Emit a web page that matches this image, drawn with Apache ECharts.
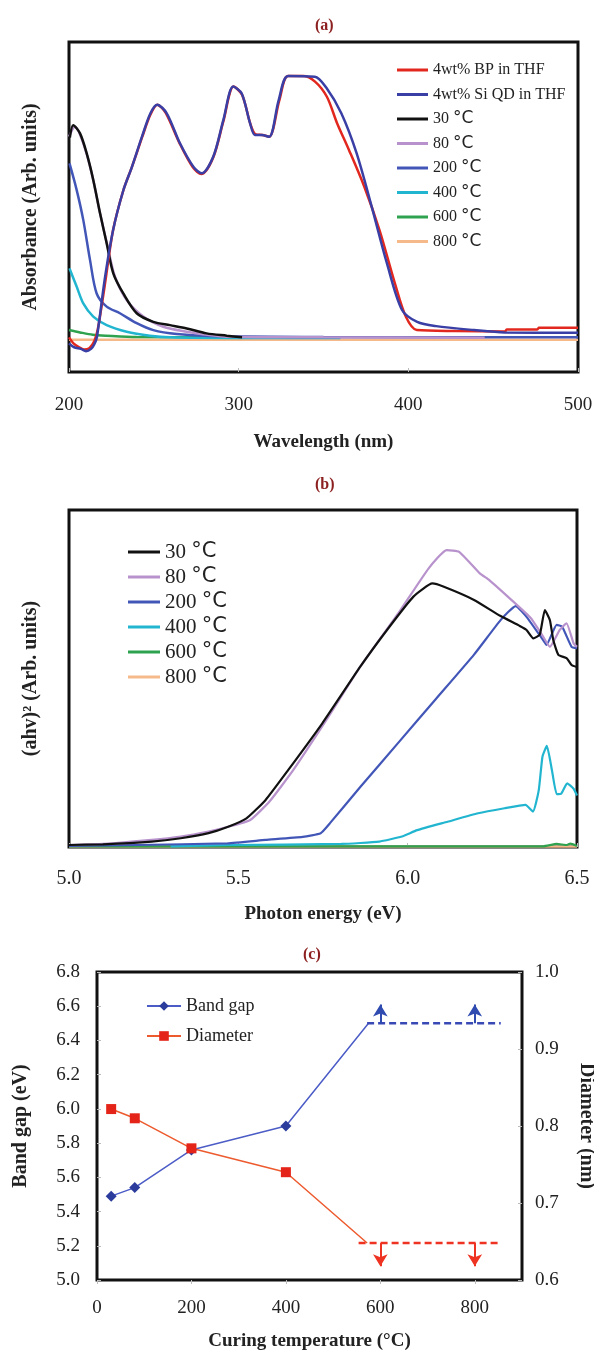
<!DOCTYPE html>
<html>
<head>
<meta charset="utf-8">
<script src="https://cdn.jsdelivr.net/npm/echarts@6/dist/echarts.min.js"></script>
<style>
  html, body { margin: 0; padding: 0; background: #fff; }
  #chart { width: 594px; height: 1351px; }
</style>
</head>
<body>
<div id="chart"></div>
<script>
// (a) absorbance vs wavelength, [nm, arb]
const absBP = [[200,10.5],[203,8.5],[206,7.5],[209,6.8],[212,7.2],[215,9.5],[217,13],[221,26],[226,43],[232,55],[237,62],[243,71],[248,78],[252,81],[257,78.5],[265,69.5],[273,62],[278,60],[285,65],[291,76],[297,86.5],[302,84],[307,75],[310,72],[314,71.8],[318,71.3],[324,82.4],[329,89.7],[338,89.7],[345,88],[352,83.4],[358,75.4],[365,67.3],[374,56.2],[383,43],[392,27],[398.5,16.8],[405,12.7],[428,12.4],[457,12.3],[458,12.9],[476,12.9],[477,13.4],[500,13.4]]
const absQD = [[200,8.7],[203,7.5],[207,7.0],[210,6.3],[213,7.0],[215,8.5],[216.5,10.7],[221,27.9],[226,43],[232,55],[237,62],[243,71.3],[248,78.4],[252,81],[257.6,78.4],[265.4,69.3],[273.3,62.2],[278.2,60.2],[285,65.2],[291,76.4],[296.8,86.5],[301.8,84.4],[306.7,75.4],[309.6,71.8],[313.6,71.8],[318,71.3],[323.6,82.4],[329.2,89.7],[344.9,89.5],[351.6,86.2],[360.5,78.4],[369.5,66.3],[378.4,50.1],[387.4,32.9],[396.3,18.8],[405.2,15.2],[416.4,13.9],[438.8,12.7],[456.7,12.0],[500,11.9]]
const abs30 = [[200.5,71],[202.5,74.8],[206.5,72.3],[210.4,66.3],[214.3,58.2],[218.3,48.1],[222.2,39],[226.1,29.9],[232,23.8],[239.9,17.8],[249.7,15.2],[259.5,14.2],[269.4,13.2],[281.1,11.7],[293,11],[302,10.5]]
const abs80 = [[200,71.3],[203.5,74.3],[208.4,69.3],[213.4,60.2],[218.3,48.1],[223.2,37],[227.1,28.9],[234,21.8],[243.8,16.8],[255.6,13.7],[269.4,12.2],[283,11.2],[293,10.7],[350,10.5],[445,10.4]]
const abs200 = [[200.3,63.2],[204.5,55.2],[208.4,46.1],[212.4,33.9],[216.3,23.8],[222.2,19.8],[230,17.8],[239.9,14.8],[249.7,12.7],[263.5,11.5],[283,10.9],[350,10.6],[500,10.5]]
const abs400 = [[200.3,31.4],[204.5,25.9],[208.4,20.8],[214.3,16.8],[222.2,14.2],[234,12.2],[247.7,11],[259.5,10.5],[300,10.3],[360,10.3]]
const abs600 = [[200,12.7],[206.5,12],[214,11.3],[222,11],[240,10.6],[340,10.5]]
const abs800 = [[200,9.8],[500,9.8]]

// (b) (ahv)^2 vs photon energy, [eV, arb]
const tauc30 = [[5.0,0.6],[5.1,0.8],[5.244,1.6],[5.33,2.6],[5.412,4.1],[5.47,6.0],[5.524,8.5],[5.58,13.9],[5.647,22.8],[5.748,36.7],[5.86,53.5],[5.939,64.4],[6.017,74.3],[6.073,78.2],[6.107,77.2],[6.196,73.3],[6.273,68.6],[6.331,65.6],[6.351,64.4],[6.371,61.9],[6.39,63],[6.405,70.3],[6.42,67.3],[6.43,61.4],[6.445,57],[6.47,56],[6.484,54],[6.5,53.4]]
const tauc80 = [[5.0,0.6],[5.1,0.9],[5.244,2.1],[5.33,3.1],[5.412,4.6],[5.47,6.0],[5.535,8],[5.592,13.5],[5.662,22.8],[5.76,37.7],[5.86,53.5],[5.972,69.3],[6.062,82.7],[6.115,88.1],[6.152,87.6],[6.213,81.2],[6.241,79.2],[6.312,72.8],[6.364,67.9],[6.381,65.4],[6.4,62.4],[6.42,59.4],[6.449,64.4],[6.469,66.4],[6.49,60.4],[6.5,59.4]]
const tauc200 = [[5.0,0.3],[5.2,0.6],[5.468,1.1],[5.58,2.1],[5.69,3.0],[5.743,4.1],[5.77,7.0],[5.86,17.8],[5.972,30.9],[6.084,44],[6.196,57.1],[6.275,67.4],[6.319,71.5],[6.351,68.3],[6.4,61.4],[6.41,60],[6.44,65.9],[6.456,65.4],[6.484,59.4],[6.5,59]]
const tauc400 = [[5.3,0.2],[5.47,0.6],[5.804,0.9],[5.916,1.6],[5.983,3.1],[6.028,5],[6.118,7.5],[6.208,10],[6.286,11.5],[6.348,12.5],[6.37,10.5],[6.387,16.8],[6.398,26.8],[6.411,30],[6.426,22.8],[6.44,15.7],[6.454,15.9],[6.471,18.9],[6.49,17.3],[6.5,15.3]]
const tauc600 = [[5.0,0.2],[6.4,0.2],[6.44,0.9],[6.47,0.6],[6.48,1.0],[6.5,0.3]]
const tauc800 = [[5.0,0.1],[6.5,0.1]]

// (c) band gap and diameter vs curing temperature
const gapTemps = [30, 80, 200, 400, 575]
const bandGap = [5.49, 5.54, 5.76, 5.90, 6.50]
const diaTemps = [30, 80, 200, 400, 572]
const diameter = [0.822, 0.810, 0.771, 0.740, 0.648]
const gapLimit = [[572, 6.5], [855, 6.5]]
const diaLimit = [[554, 0.648], [855, 0.648]]
const arrowTemps = [600, 800]
const gapArrowTip = 6.61
const diaArrowTip = 0.618

const serif = "Liberation Serif"
const tempNames = ["30 °C", "80 °C", "200 °C", "400 °C", "600 °C", "800 °C"]
const tempColors = ["#111111", "#b892cc", "#4256b8", "#22b5d0", "#2ea24e", "#f6b98a"]

let chart = echarts.init(document.getElementById("chart"))

function degFmt(name) {
    return name.replace(" °C", " {u|°C}")
}

function hiddenY(idx, name, gap) {
    return {
        type: "value", gridIndex: idx, min: 0, max: 100,
        axisLine: {show: false}, axisTick: {show: false}, axisLabel: {show: false}, splitLine: {show: false},
        name: name, nameLocation: "middle", nameGap: gap,
        nameTextStyle: {fontFamily: serif, fontWeight: "bold", fontSize: 20, color: "#222"}
    }
}

function lineSeries(name, data, color, xi, yi, width, z, smooth) {
    return {
        type: "line", name: name, data: data, xAxisIndex: xi, yAxisIndex: yi,
        symbol: "none", smooth: smooth, z: z,
        lineStyle: {color: color, width: width}, itemStyle: {color: color}
    }
}

const absSeries = [abs800, abs600, abs400, abs200, abs80, abs30]
const taucSeries = [tauc800, tauc600, tauc400, tauc200, tauc80, tauc30]

let series = []
// panel a
for (let i = 5; i >= 0; i--) {
    series.push(lineSeries(tempNames[i], absSeries[5 - i], tempColors[i], 0, 0, 2.5, 2, 0.3))
}
series.push(lineSeries("4wt% BP in THF", absBP, "#e2281e", 0, 0, 2.5, 3, 0.3))
series.push(lineSeries("4wt% Si QD in THF", absQD, "#3a3fa6", 0, 0, 2.5, 4, 0.3))
// panel b
for (let i = 5; i >= 0; i--) {
    series.push(lineSeries(tempNames[i], taucSeries[5 - i], tempColors[i], 1, 1, 2.2, 2, 0.15))
}
// panel c
series.push({
    type: "line", name: "Band gap", xAxisIndex: 2, yAxisIndex: 2,
    data: gapTemps.map((t, i) => ({value: [t, bandGap[i]], symbol: i === gapTemps.length - 1 ? "none" : "diamond"})),
    symbol: "diamond", symbolSize: 11,
    lineStyle: {color: "#4b5cc6", width: 1.5}, itemStyle: {color: "#2c3c9c"}
})
series.push({
    type: "line", name: "Diameter", xAxisIndex: 2, yAxisIndex: 3,
    data: diaTemps.map((t, i) => ({value: [t, diameter[i]], symbol: i === diaTemps.length - 1 ? "none" : "rect"})),
    symbol: "rect", symbolSize: 10,
    lineStyle: {color: "#ec5a2e", width: 1.5}, itemStyle: {color: "#e42418"}
})
series.push({
    type: "line", name: "gapLimit", xAxisIndex: 2, yAxisIndex: 2, data: gapLimit, symbol: "none",
    lineStyle: {color: "#3848b4", width: 2.5, type: [7, 4]},
    markLine: {
        silent: true, symbol: ["none", "arrow"], symbolSize: [11, 12], label: {show: false},
        lineStyle: {color: "#2f4bb0", width: 2, type: "solid"},
        data: arrowTemps.map(t => [{coord: [t, gapLimit[0][1]]}, {coord: [t, gapArrowTip]}])
    }
})
series.push({
    type: "line", name: "diaLimit", xAxisIndex: 2, yAxisIndex: 3, data: diaLimit, symbol: "none",
    lineStyle: {color: "#ee3322", width: 2.5, type: [7, 4]},
    markLine: {
        silent: true, symbol: ["none", "arrow"], symbolSize: [11, 12], label: {show: false},
        lineStyle: {color: "#ee3322", width: 2, type: "solid"},
        data: arrowTemps.map(t => [{coord: [t, diaLimit[0][1]]}, {coord: [t, diaArrowTip]}])
    }
})

const gridBox = {show: true, borderColor: "#111", borderWidth: 3, backgroundColor: "transparent", outerBoundsMode: "none", containLabel: false}
const tickStyle = {show: true, inside: true, length: 4, lineStyle: {color: "#bbb"}}

let option = {
    backgroundColor: "#fff",
    animation: false,
    title: [
        {text: "(a)", left: 310, top: 13, textStyle: {fontFamily: serif, fontWeight: "bold", fontSize: 16, color: "#8c1f1f"}},
        {text: "(b)", left: 310, top: 472, textStyle: {fontFamily: serif, fontWeight: "bold", fontSize: 16, color: "#8c1f1f"}},
        {text: "(c)", left: 298, top: 942, textStyle: {fontFamily: serif, fontWeight: "bold", fontSize: 16, color: "#8c1f1f"}}
    ],
    grid: [
        Object.assign({left: 69, top: 42, width: 509, height: 330}, gridBox),
        Object.assign({left: 69, top: 510, width: 508, height: 337}, gridBox),
        Object.assign({left: 97, top: 972, width: 425, height: 308}, gridBox)
    ],
    legend: [
        {
            data: ["4wt% BP in THF", "4wt% Si QD in THF"].concat(tempNames),
            orient: "vertical", left: 392, top: 55, itemWidth: 31, itemHeight: 3, itemGap: 4.5, icon: "rect",
            formatter: degFmt,
            textStyle: {fontFamily: serif, fontSize: 16, color: "#222", lineHeight: 20,
                rich: {u: {fontFamily: "DejaVu Sans", fontSize: 17, color: "#222", lineHeight: 20}}}
        },
        {
            data: tempNames.map(n => ({name: n})),
            orient: "vertical", left: 123, top: 536, itemWidth: 32, itemHeight: 3, itemGap: 3, icon: "rect",
            formatter: degFmt,
            textStyle: {fontFamily: serif, fontSize: 21, color: "#222", lineHeight: 22,
                rich: {u: {fontFamily: "DejaVu Sans", fontSize: 21, color: "#222", lineHeight: 22}}}
        },
        {
            data: ["Band gap", "Diameter"],
            orient: "vertical", left: 141, top: 991, itemWidth: 34, itemHeight: 12, itemGap: 10,
            textStyle: {fontFamily: serif, fontSize: 18, color: "#222", lineHeight: 20}
        }
    ],
    xAxis: [
        {
            type: "value", gridIndex: 0, min: 200, max: 500, interval: 100,
            axisLine: {show: false}, axisTick: tickStyle, splitLine: {show: false},
            axisLabel: {fontFamily: serif, fontSize: 19, color: "#222", margin: 24},
            name: "Wavelength (nm)", nameLocation: "middle", nameGap: 61,
            nameTextStyle: {fontFamily: serif, fontWeight: "bold", fontSize: 19, color: "#222"}
        },
        {
            type: "value", gridIndex: 1, min: 5, max: 6.5, interval: 0.5,
            axisLine: {show: false}, axisTick: tickStyle, splitLine: {show: false},
            axisLabel: {fontFamily: serif, fontSize: 20, color: "#222", margin: 22, formatter: v => v.toFixed(1)},
            name: "Photon energy (eV)", nameLocation: "middle", nameGap: 58,
            nameTextStyle: {fontFamily: serif, fontWeight: "bold", fontSize: 19, color: "#222"}
        },
        {
            type: "value", gridIndex: 2, min: 0, max: 900, interval: 200,
            axisLine: {show: false}, axisTick: {show: true, inside: false, length: 4, lineStyle: {color: "#bbb"}},
            splitLine: {show: false},
            axisLabel: {fontFamily: serif, fontSize: 19, color: "#222", margin: 19, showMaxLabel: false},
            name: "Curing temperature (°C)", nameLocation: "middle", nameGap: 52,
            nameTextStyle: {fontFamily: serif, fontWeight: "bold", fontSize: 19, color: "#222"}
        }
    ],
    yAxis: [
        hiddenY(0, "Absorbance (Arb. units)", 28),
        hiddenY(1, "(ahv)² (Arb. units)", 28),
        {
            type: "value", gridIndex: 2, min: 5.0, max: 6.8, interval: 0.2,
            axisLine: {show: false}, axisTick: tickStyle, splitLine: {show: false},
            axisLabel: {fontFamily: serif, fontSize: 19, color: "#222", margin: 17, formatter: v => v.toFixed(1)},
            name: "Band gap (eV)", nameLocation: "middle", nameGap: 66,
            nameTextStyle: {fontFamily: serif, fontWeight: "bold", fontSize: 20, color: "#222"}
        },
        {
            type: "value", gridIndex: 2, position: "right", min: 0.6, max: 1.0, interval: 0.1,
            axisLine: {show: false}, axisTick: tickStyle, splitLine: {show: false},
            axisLabel: {fontFamily: serif, fontSize: 19, color: "#222", margin: 13, formatter: v => v.toFixed(1)},
            name: "Diameter (nm)", nameLocation: "middle", nameGap: 54, nameRotate: -90,
            nameTextStyle: {fontFamily: serif, fontWeight: "bold", fontSize: 20, color: "#222"}
        }
    ],
    series: series
}

option && chart.setOption(option)
</script>
</body>
</html>
